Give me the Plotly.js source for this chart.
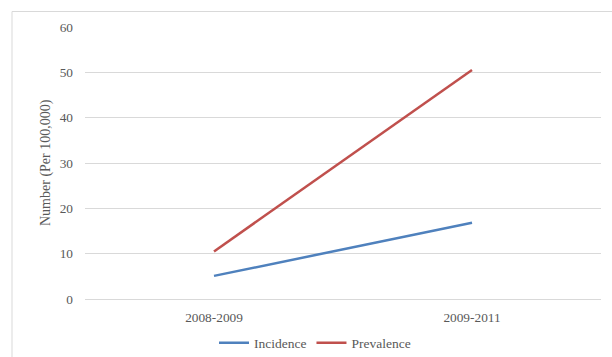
<!DOCTYPE html>
<html>
<head>
<meta charset="utf-8">
<script src="https://cdn.plot.ly/plotly-3.0.1.min.js"></script>
<style>html,body{margin:0;padding:0;background:#fff;}#chart{width:612px;height:357px;}</style>
</head>
<body>
<div id="chart"></div>
<script>
var categories = ["2008-2009", "2009-2011"];
var incidence = [5.1, 16.8];
var prevalence = [10.5, 50.5];
var yTicks = [0, 10, 20, 30, 40, 50, 60];

var font = {family: "Liberation Serif, Times New Roman, serif", size: 13.33, color: "#595959"};
var legendFont = {family: "Liberation Serif, Times New Roman, serif", size: 13.5, color: "#595959"};
var titleFont = {family: "Liberation Serif, Times New Roman, serif", size: 14, color: "#595959"};
var L = 85, R = 601, T = 27, B = 299;
var W = 612, H = 357;

var traces = [
  {x: categories, y: incidence, name: "Incidence", type: "scatter", mode: "lines",
   line: {color: "#4F81BD", width: 2.5}},
  {x: categories, y: prevalence, name: "Prevalence", type: "scatter", mode: "lines",
   line: {color: "#C0504D", width: 2.5}}
];

var pw = R - L, ph = B - T;
var layout = {
  width: W, height: H,
  margin: {l: L, r: W - R, t: T, b: H - B, pad: 0, autoexpand: false},
  paper_bgcolor: "#fff", plot_bgcolor: "#fff",
  font: font,
  showlegend: true,
  legend: {orientation: "h", x: (214 - L) / pw, xanchor: "left", y: (B - 343) / ph, yanchor: "middle",
           font: legendFont, itemwidth: 30, tracegroupgap: 0},
  xaxis: {type: "category", range: [-0.5, 1.5], showgrid: false, zeroline: false, showline: false,
          ticks: "", tickfont: font, ticklabelstandoff: 9, fixedrange: true, automargin: false},
  yaxis: {range: [0, 60], tickvals: yTicks, showgrid: true, gridcolor: "#d9d9d9", gridwidth: 1,
          zeroline: true, zerolinecolor: "#d9d9d9", zerolinewidth: 1, showline: false,
          ticks: "", tickfont: font, ticklabelstandoff: 11, fixedrange: true, automargin: false},
  annotations: [{text: "Number (Per 100,000)", textangle: -90, xref: "paper", yref: "paper",
                 x: (46 - L) / pw, y: (B - 163) / ph, xanchor: "center", yanchor: "middle",
                 showarrow: false, font: titleFont}],
  shapes: [{type: "rect", xref: "paper", yref: "paper",
            x0: (12 - L) / pw, x1: (620 - L) / pw, y0: (B - 365) / ph, y1: (B - 11.5) / ph,
            line: {color: "#d9d9d9", width: 1}, fillcolor: "rgba(0,0,0,0)", layer: "below"}]
};

Plotly.newPlot("chart", traces, layout, {displayModeBar: false, staticPlot: true});
</script>
</body>
</html>
